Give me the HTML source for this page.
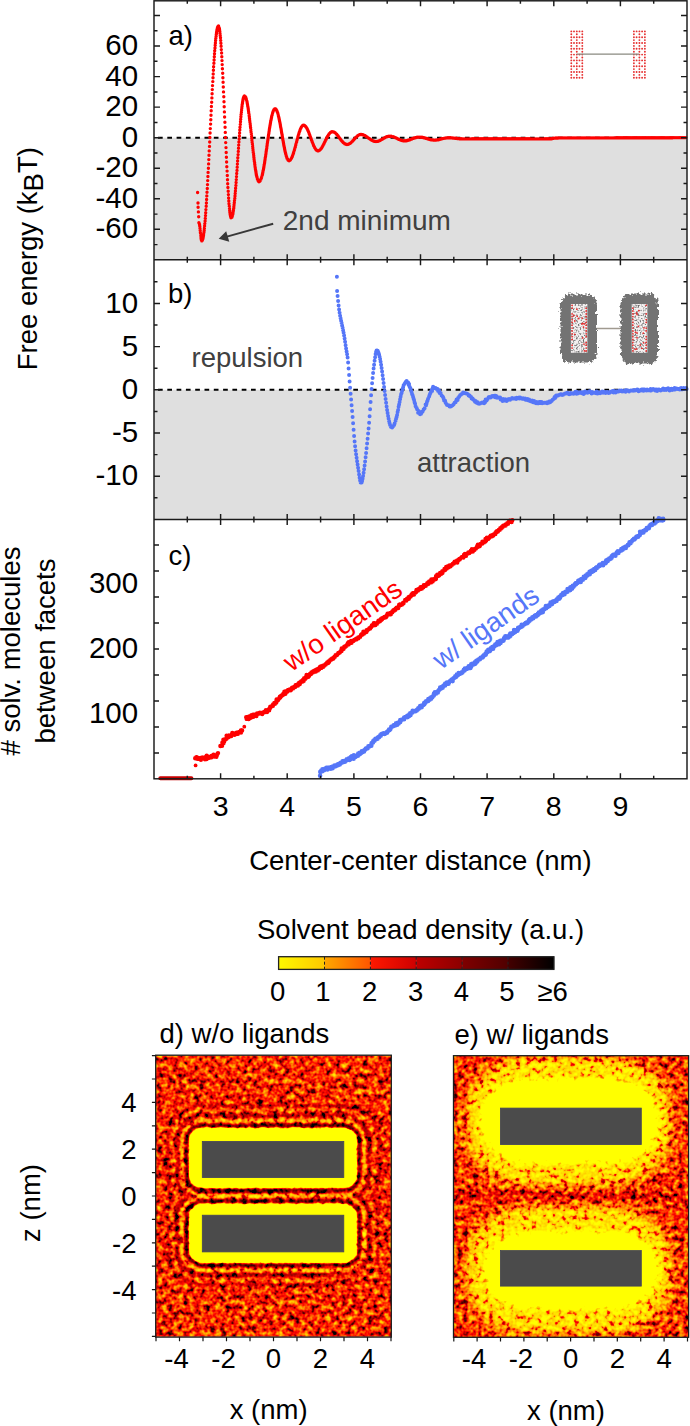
<!DOCTYPE html><html><head><meta charset="utf-8"><style>html,body{margin:0;padding:0;background:#fff;overflow:hidden;}svg{display:block;}</style></head><body>
<svg width="690" height="1426" viewBox="0 0 690 1426" font-family="Liberation Sans, sans-serif">
<rect width="690" height="1426" fill="#fff"/>
<defs>
<pattern id="dotpat" x="0" y="0" width="2.8" height="2.8" patternUnits="userSpaceOnUse"><circle cx="1.4" cy="1.4" r="0.75" fill="#e83030"/></pattern>
<pattern id="dotpat2" x="0" y="0" width="3" height="3" patternUnits="userSpaceOnUse"><circle cx="1.5" cy="1.5" r="0.8" fill="#e83a3a"/></pattern>
</defs>
<rect x="154" y="137.7" width="533" height="122" fill="#dfdfdf"/>
<rect x="154" y="389.8" width="533" height="129.6" fill="#dfdfdf"/>
<line x1="155" y1="137.7" x2="687" y2="137.7" stroke="#000" stroke-width="2" stroke-dasharray="4.7 4.6" stroke-dashoffset="-3"/>
<line x1="155" y1="389.8" x2="687" y2="389.8" stroke="#000" stroke-width="2" stroke-dasharray="4.7 4.6" stroke-dashoffset="-3"/>
<path d="M197.6 192.5h0M198 203h0M198.1 207.2h0M198.4 211.9h0M198.7 216.7h0M198.9 222.7h0M199.3 223.7h0M199.6 224.9h0M199.8 226.5h0M200 228.4h0M200.2 230.5h0M200.4 232.7h0M200.7 234.8h0M200.9 236.7h0M201.1 238.4h0M201.3 239.7h0M201.8 240.9h0M202.4 240.2h0M202.9 238.7h0M203.1 237.8h0M203.3 236.6h0M203.5 235.3h0M203.7 233.7h0M204 232h0M204.2 230.2h0M204.4 228.2h0M204.6 226h0M204.8 223.6h0M205.1 221.1h0M205.3 218.4h0M205.5 215.6h0M205.7 212.7h0M205.9 209.6h0M206.2 206.3h0M206.4 203h0M206.6 199.5h0M206.8 195.9h0M207 192.3h0M207.3 188.5h0M207.5 184.6h0M207.7 180.6h0M207.9 176.5h0M208.1 172.4h0M208.4 168.2h0M208.6 163.9h0M208.8 159.6h0M209 155.3h0M209.2 150.9h0M209.5 146.4h0M209.7 142h0M209.9 137.5h0M210.1 133h0M210.3 128.6h0M210.6 124.1h0M210.8 119.7h0M211 115.2h0M211.2 110.8h0M211.4 106.5h0M211.7 102.2h0M211.9 97.9h0M212.1 93.7h0M212.3 89.6h0M212.5 85.6h0M212.8 81.6h0M213 77.7h0M213.2 74h0M213.4 70.3h0M213.6 66.7h0M213.9 63.3h0M214.1 60h0M214.3 56.8h0M214.5 53.7h0M214.7 50.8h0M215 48h0M215.2 45.3h0M215.4 42.9h0M215.6 40.5h0M215.8 38.4h0M216.1 36.4h0M216.3 34.5h0M216.5 32.9h0M216.7 31.4h0M216.9 30.1h0M217.2 28.9h0M217.4 28h0M217.8 26.6h0M218.5 26h0M219.1 27.6h0M219.4 28.6h0M219.6 29.9h0M219.8 31.5h0M220 33.4h0M220.2 35.5h0M220.5 37.8h0M220.7 40.4h0M220.9 43.2h0M221.1 46.3h0M221.3 49.6h0M221.6 53h0M221.8 56.7h0M222 60.6h0M222.2 64.6h0M222.4 68.8h0M222.7 73.2h0M222.9 77.7h0M223.1 82.3h0M223.3 87h0M223.5 91.9h0M223.8 96.8h0M224 101.8h0M224.2 106.8h0M224.4 111.9h0M224.6 117h0M224.9 122.2h0M225.1 127.3h0M225.3 132.4h0M225.5 137.5h0M225.7 142.6h0M226 147.6h0M226.2 152.5h0M226.4 157.3h0M226.6 162h0M226.8 166.7h0M227.1 171.1h0M227.3 175.5h0M227.5 179.7h0M227.7 183.7h0M227.9 187.5h0M228.2 191.2h0M228.4 194.6h0M228.6 197.9h0M228.8 200.9h0M229 203.7h0M229.3 206.3h0M229.5 208.6h0M229.7 210.7h0M229.9 212.5h0M230.1 214.1h0M230.4 215.4h0M230.6 216.4h0M231 217.7h0M231.9 217.3h0M232.3 216h0M232.8 214.2h0M233 213h0M233.2 211.6h0M233.4 210.2h0M233.7 208.5h0M233.9 206.8h0M234.1 204.8h0M234.3 202.8h0M234.5 200.6h0M234.8 198.4h0M235 196h0M235.2 193.5h0M235.4 190.9h0M235.6 188.2h0M235.9 185.4h0M236.1 182.5h0M236.3 179.6h0M236.5 176.6h0M236.7 173.5h0M237 170.4h0M237.2 167.3h0M237.4 164.1h0M237.6 161h0M237.8 157.8h0M238.1 154.6h0M238.3 151.4h0M238.5 148.2h0M238.7 145.1h0M238.9 142h0M239.2 138.9h0M239.4 135.9h0M239.6 132.9h0M239.8 130h0M240 127.2h0M240.3 124.4h0M240.5 121.8h0M240.7 119.2h0M240.9 116.7h0M241.1 114.4h0M241.4 112.2h0M241.6 110h0M241.8 108.1h0M242 106.2h0M242.2 104.5h0M242.5 102.9h0M242.7 101.5h0M242.9 100.3h0M243.1 99.2h0M243.3 98.2h0M243.8 96.8h0M244.4 95.9h0M245.3 96.6h0M245.8 97.5h0M246.2 98.7h0M246.6 100.4h0M246.9 101.3h0M247.1 102.3h0M247.3 103.5h0M247.5 104.6h0M247.7 105.9h0M248 107.3h0M248.2 108.7h0M248.4 110.1h0M248.6 111.7h0M248.8 113.3h0M249.1 114.9h0M249.3 116.7h0M249.5 118.4h0M249.7 120.2h0M249.9 122.1h0M250.2 124h0M250.4 125.9h0M250.6 127.8h0M250.8 129.8h0M251 131.8h0M251.3 133.8h0M251.5 135.8h0M251.7 137.9h0M251.9 139.9h0M252.1 141.9h0M252.4 144h0M252.6 146h0M252.8 148h0M253 149.9h0M253.2 151.9h0M253.5 153.8h0M253.7 155.7h0M253.9 157.5h0M254.1 159.3h0M254.3 161.1h0M254.6 162.8h0M254.8 164.5h0M255 166.1h0M255.2 167.6h0M255.4 169.1h0M255.7 170.5h0M255.9 171.8h0M256.1 173.1h0M256.3 174.3h0M256.5 175.4h0M256.8 176.4h0M257 177.3h0M257.4 178.9h0M257.9 180.2h0M258.3 181.1h0M259 181.7h0M259.8 181.3h0M260.5 180.3h0M260.9 179.3h0M261.4 178.1h0M261.8 176.6h0M262.3 174.9h0M262.5 174h0M262.7 173h0M262.9 171.9h0M263.1 170.8h0M263.4 169.7h0M263.6 168.5h0M263.8 167.2h0M264 166h0M264.2 164.7h0M264.5 163.3h0M264.7 161.9h0M264.9 160.5h0M265.1 159.1h0M265.3 157.6h0M265.6 156.1h0M265.8 154.6h0M266 153.1h0M266.2 151.5h0M266.4 150h0M266.7 148.4h0M266.9 146.8h0M267.1 145.2h0M267.3 143.7h0M267.5 142.1h0M267.8 140.5h0M268 139h0M268.2 137.4h0M268.4 135.9h0M268.6 134.4h0M268.9 132.9h0M269.1 131.4h0M269.3 130h0M269.5 128.6h0M269.7 127.2h0M270 125.8h0M270.2 124.5h0M270.4 123.3h0M270.6 122h0M270.8 120.8h0M271.1 119.7h0M271.3 118.6h0M271.5 117.5h0M271.7 116.5h0M271.9 115.6h0M272.2 114.7h0M272.6 113.1h0M273 111.7h0M273.5 110.6h0M273.9 109.8h0M274.6 109h0M275.7 109h0M276.3 109.8h0M276.8 110.6h0M277.2 111.7h0M277.7 113h0M278.1 114.5h0M278.5 116.3h0M278.8 117.2h0M279 118.2h0M279.2 119.2h0M279.4 120.2h0M279.6 121.3h0M279.9 122.4h0M280.1 123.6h0M280.3 124.8h0M280.5 126h0M280.7 127.2h0M281 128.4h0M281.2 129.7h0M281.4 131h0M281.6 132.2h0M281.8 133.5h0M282.1 134.8h0M282.3 136.1h0M282.5 137.4h0M282.7 138.7h0M282.9 139.9h0M283.2 141.2h0M283.4 142.4h0M283.6 143.7h0M283.8 144.9h0M284 146h0M284.3 147.2h0M284.5 148.3h0M284.7 149.4h0M284.9 150.4h0M285.1 151.4h0M285.4 152.4h0M285.6 153.3h0M285.8 154.2h0M286.2 155.8h0M286.7 157.2h0M287.1 158.4h0M287.6 159.3h0M288.2 160.3h0M289.1 160.7h0M290 160.3h0M290.6 159.6h0M291.3 158.6h0M291.7 157.7h0M292.2 156.7h0M292.6 155.6h0M293.1 154.3h0M293.5 153h0M293.9 151.6h0M294.4 150.1h0M294.8 148.5h0M295.3 146.9h0M295.7 145.2h0M296.1 143.6h0M296.6 141.9h0M297 140.2h0M297.5 138.6h0M297.9 137h0M298.3 135.4h0M298.8 133.9h0M299.2 132.5h0M299.7 131.2h0M300.1 130h0M300.5 128.9h0M301 127.9h0M301.4 127.1h0M302.1 126.1h0M302.7 125.5h0M303.6 125.2h0M304.5 125.4h0M305.4 126.2h0M306 127h0M306.7 128h0M307.1 128.8h0M307.6 129.7h0M308 130.7h0M308.5 131.7h0M308.9 132.8h0M309.3 134h0M309.8 135.2h0M310.2 136.4h0M310.7 137.6h0M311.1 138.8h0M311.5 140.1h0M312 141.3h0M312.4 142.4h0M312.9 143.6h0M313.3 144.6h0M313.7 145.7h0M314.2 146.6h0M314.6 147.5h0M315.3 148.6h0M315.9 149.5h0M316.6 150.2h0M317.5 150.7h0M318.6 150.7h0M319.5 150.3h0M320.3 149.6h0M321 148.8h0M321.7 147.9h0M322.3 146.8h0M323 145.6h0M323.4 144.8h0M323.9 143.9h0M324.3 143h0M324.7 142.1h0M325.2 141.2h0M325.6 140.3h0M326.1 139.4h0M326.5 138.5h0M326.9 137.6h0M327.4 136.8h0M327.8 136h0M328.5 134.9h0M329.1 133.9h0M329.8 133.1h0M330.5 132.5h0M331.3 131.9h0M332.2 131.7h0M333.3 131.9h0M334.2 132.2h0M335.1 132.8h0M336 133.6h0M336.6 134.2h0M337.3 135h0M337.9 135.8h0M338.6 136.7h0M339.3 137.6h0M339.9 138.5h0M340.6 139.4h0M341.2 140.2h0M341.9 141.1h0M342.6 141.8h0M343.2 142.5h0M344.1 143.3h0M345 143.9h0M345.9 144.3h0M347 144.5h0M348.1 144.4h0M348.9 144h0M349.8 143.5h0M350.7 142.9h0M351.6 142.1h0M352.2 141.4h0M352.9 140.7h0M353.6 139.9h0M354.2 139.2h0M354.9 138.5h0M355.5 137.7h0M356.2 137.1h0M356.9 136.4h0M357.7 135.7h0M358.6 135.1h0M359.5 134.7h0M360.4 134.5h0M361.5 134.5h0M362.6 134.7h0M363.5 135h0M364.3 135.4h0M365.2 135.8h0M366.1 136.4h0M367 136.9h0M367.9 137.6h0M368.7 138.2h0M369.6 138.8h0M370.5 139.4h0M371.4 140h0M372.3 140.5h0M373.1 140.9h0M374 141.2h0M374.9 141.4h0M376 141.5h0M377.1 141.4h0M378.2 141.2h0M379.1 140.9h0M380 140.5h0M380.8 140h0M381.7 139.5h0M382.6 139h0M383.5 138.4h0M384.4 137.9h0M385.2 137.4h0M386.1 137h0M387 136.7h0M387.9 136.4h0M389 136.2h0M390.1 136.2h0M391.2 136.3h0M392.3 136.6h0M393.2 136.8h0M394 137.1h0M394.9 137.5h0M395.8 137.9h0M396.7 138.3h0M397.6 138.7h0M398.4 139.2h0M399.3 139.6h0M400.2 139.9h0M401.1 140.2h0M402 140.5h0M403.1 140.7h0M404.2 140.8h0M405.3 140.8h0M406.4 140.7h0M407.5 140.5h0M408.3 140.2h0M409.2 140h0M410.1 139.7h0M411 139.3h0M411.9 139h0M412.7 138.6h0M413.6 138.3h0M414.5 138h0M415.4 137.7h0M416.3 137.5h0M417.4 137.3h0M418.5 137.1h0M419.6 137.1h0M420.7 137.2h0M421.8 137.3h0M422.9 137.5h0M423.7 137.7h0M424.6 137.9h0M425.5 138.2h0M426.4 138.4h0M427.3 138.7h0M428.1 139h0M429 139.2h0M429.9 139.5h0M430.8 139.7h0M431.9 139.9h0M433 140h0M434.1 140.1h0M435.2 140.1h0M436.3 140h0M437.4 139.9h0M438.5 139.7h0M439.4 139.5h0M440.2 139.3h0M441.1 139h0M442 138.8h0M442.9 138.6h0M443.8 138.4h0M444.9 138.1h0M446 138h0M447.1 137.9h0M448.2 137.8h0M449.3 137.8h0M450.4 137.8h0M451.5 137.9h0M452.6 138h0M453.7 138.1h0M454.8 138.2h0M455.9 138.3h0M457 138.5h0M458.1 138.6h0M459.2 138.7h0M460.3 138.8h0M461.4 138.8h0M462.5 138.9h0M463.6 138.9h0M464.7 138.9h0M465.8 138.9h0M466.9 138.9h0M468 138.9h0M469.1 138.9h0M470.2 138.9h0M471.3 138.9h0M472.4 138.8h0M473.5 138.8h0M474.6 138.8h0M475.7 138.8h0M476.8 138.8h0M477.9 138.8h0M479 138.8h0M480.1 138.8h0M481.2 138.8h0M482.3 138.8h0M483.4 138.8h0M484.5 138.8h0M485.6 138.8h0M486.7 138.7h0M487.8 138.7h0M488.9 138.7h0M490 138.7h0M491.1 138.7h0M492.2 138.7h0M493.3 138.7h0M494.4 138.7h0M495.5 138.7h0M496.6 138.7h0M497.7 138.7h0M498.8 138.7h0M499.9 138.7h0M501 138.7h0M502.1 138.7h0M503.2 138.7h0M504.3 138.7h0M505.4 138.7h0M506.5 138.7h0M507.6 138.7h0M508.7 138.7h0M509.8 138.7h0M510.9 138.7h0M512 138.7h0M513.1 138.7h0M514.2 138.7h0M515.3 138.8h0M516.4 138.8h0M517.5 138.8h0M518.6 138.8h0M519.7 138.8h0M520.8 138.8h0M521.9 138.8h0M523 138.8h0M524.1 138.8h0M525.2 138.8h0M526.3 138.8h0M527.4 138.8h0M528.5 138.8h0M529.6 138.8h0M530.7 138.9h0M531.8 138.9h0M532.9 138.9h0M534 138.9h0M535.1 138.9h0M536.2 138.9h0M537.3 138.9h0M538.4 138.9h0M539.5 138.9h0M540.6 138.9h0M541.7 138.9h0M542.8 138.9h0M543.9 138.9h0M545 138.8h0M546.1 138.8h0M547.2 138.8h0M548.3 138.8h0M549.4 138.8h0M550.5 138.8h0M551.6 138.7h0M552.7 138.5h0M553.8 138.3h0M554.9 138.1h0M556 138h0M557.1 138h0M558.2 138h0M559.3 137.9h0M560.4 137.9h0M561.5 137.9h0M562.6 137.9h0M563.7 137.9h0M564.8 137.9h0M565.9 137.9h0M567 137.9h0M568.1 137.9h0M569.2 137.9h0M570.3 137.9h0M571.4 137.9h0M572.5 137.9h0M573.6 137.9h0M574.7 137.9h0M575.8 137.9h0M576.9 137.9h0M578 137.9h0M579.1 137.9h0M580.2 137.9h0M581.3 137.9h0M582.4 137.9h0M583.5 137.9h0M584.6 137.9h0M585.7 137.9h0M586.8 137.9h0M587.9 137.9h0M589 137.9h0M590.1 137.9h0M591.2 137.9h0M592.3 137.9h0M593.4 137.9h0M594.5 137.9h0M595.6 137.9h0M596.7 137.9h0M597.8 137.9h0M598.9 137.9h0M600 137.9h0M601.1 137.9h0M602.2 137.9h0M603.3 137.9h0M604.4 137.9h0M605.5 137.9h0M606.6 137.9h0M607.7 137.9h0M608.8 137.9h0M609.9 137.9h0M611 137.9h0M612.1 137.9h0M613.2 137.9h0M614.3 137.9h0M615.4 137.9h0M616.5 137.8h0M617.6 137.8h0M618.7 137.8h0M619.8 137.8h0M620.9 137.8h0M622 137.8h0M623.1 137.8h0M624.2 137.8h0M625.3 137.8h0M626.4 137.8h0M627.5 137.8h0M628.6 137.8h0M629.7 137.8h0M630.8 137.8h0M631.9 137.8h0M633 137.8h0M634.1 137.8h0M635.2 137.8h0M636.3 137.8h0M637.4 137.8h0M638.5 137.8h0M639.6 137.8h0M640.7 137.8h0M641.8 137.8h0M642.9 137.8h0M644 137.8h0M645.1 137.7h0M646.2 137.7h0M647.3 137.7h0M648.4 137.7h0M649.5 137.7h0M650.6 137.7h0M651.7 137.7h0M652.8 137.7h0M653.9 137.7h0M655 137.7h0M656.1 137.7h0M657.2 137.7h0M658.3 137.7h0M659.4 137.7h0M660.5 137.7h0M661.6 137.7h0M662.7 137.7h0M663.8 137.7h0M664.9 137.7h0M666 137.7h0M667.1 137.7h0M668.2 137.7h0M669.3 137.7h0M670.4 137.7h0M671.5 137.7h0M672.6 137.7h0M673.7 137.6h0M674.8 137.6h0M675.9 137.6h0M677 137.6h0M678.1 137.6h0M679.2 137.6h0M680.3 137.6h0M681.4 137.6h0M682.5 137.6h0M683.6 137.6h0M684.7 137.6h0M685.8 137.6h0" stroke="#ff0000" stroke-width="3.4" stroke-linecap="round" fill="none"/>
<path d="M336.9 276.7h0M337.1 290.9h0M337.6 296h0M338.1 301h0M338.6 305.6h0M339.1 309.4h0M339.6 312.7h0M340.1 315.7h0M340.6 318.3h0M341.1 320.7h0M341.6 323.1h0M342.1 325.4h0M342.6 327.8h0M343.1 330.2h0M343.6 332.7h0M344.1 335.4h0M344.6 338.4h0M345.1 341.8h0M345.6 345.2h0M346.1 348.5h0M346.6 351.5h0M347.1 354.3h0M347.6 357.6h0M348.1 362.4h0M348.6 368.5h0M349.1 375.1h0M349.6 381.4h0M350.1 387.8h0M350.6 393.7h0M351.1 399.5h0M351.6 405.3h0M352.1 411h0M352.6 416.9h0M353.1 423.2h0M353.6 429.7h0M354.1 436h0M354.6 441.6h0M355.1 446.2h0M355.6 450.4h0M356.1 454.2h0M356.6 457.8h0M357.1 461.2h0M357.6 464.5h0M358.1 467.7h0M358.6 471h0M359.1 474.5h0M359.6 477.8h0M360.1 480.6h0M360.6 482.4h0M361.6 482.4h0M362.1 481h0M362.6 478.8h0M363.1 476h0M363.6 472.8h0M364.1 469.3h0M364.6 465.5h0M365.1 461.5h0M365.6 457.3h0M366.1 452.9h0M366.6 448.3h0M367.1 443.6h0M367.6 438.7h0M368.1 433.6h0M368.6 428.4h0M369.1 422.7h0M369.6 416.2h0M370.1 409.2h0M370.6 402h0M371.1 395.2h0M371.6 389h0M372.1 383.3h0M372.6 377.9h0M373.1 372.9h0M373.6 368.6h0M374.1 364.7h0M374.6 360.8h0M375.1 357.2h0M375.6 354h0M376.1 351.7h0M376.6 350.4h0M377.6 350.8h0M378.1 351.7h0M378.6 353h0M379.1 354.6h0M379.6 356.7h0M380.1 359.1h0M380.6 361.8h0M381.1 364.8h0M381.6 368h0M382.1 371.5h0M382.6 375.2h0M383.1 379h0M383.6 382.9h0M384.1 386.9h0M384.6 391h0M385.1 395h0M385.6 398.9h0M386.1 402.7h0M386.6 406.4h0M387.1 409.9h0M387.6 413.1h0M388.1 416.1h0M388.6 418.8h0M389.1 421.2h0M389.6 423.3h0M390.1 424.9h0M390.6 426.2h0M391.1 427.1h0M392.1 427.6h0M393.1 426.3h0M394.1 424.9h0M394.6 423.6h0M395.6 420.7h0M396.1 418.7h0M396.6 417.1h0M397.1 415.1h0M397.6 412.1h0M398.1 410.1h0M398.6 406.8h0M399.1 404.6h0M399.6 402.1h0M400.1 399.2h0M400.6 396.7h0M401.1 394.3h0M401.6 392.9h0M402.1 390.9h0M402.6 388.9h0M403.1 387.5h0M403.6 385.2h0M404.6 383.8h0M405.6 381.9h0M406.6 381h0M407.1 382.1h0M408.1 382.6h0M408.6 384.8h0M409.1 383.9h0M409.6 386.7h0M410.1 387.7h0M410.6 388.8h0M411.1 390.7h0M411.6 392.3h0M412.1 394.3h0M412.6 395.3h0M413.1 396.9h0M413.6 398.7h0M414.1 400.2h0M414.6 402.4h0M415.1 403.7h0M415.6 406.3h0M416.6 407.9h0M417.1 409.2h0M418.1 412.7h0M418.6 411.1h0M419.1 412.8h0M420.1 414.3h0M420.6 412.3h0M421.1 413.8h0M421.6 412.4h0M422.6 411.4h0M423.6 409.5h0M424.6 408.3h0M425.6 404.4h0M426.1 405.3h0M426.6 403.6h0M427.1 401.5h0M427.6 400.5h0M428.1 398.8h0M429.1 396.5h0M429.6 395h0M430.1 393.8h0M430.6 392.7h0M431.1 391.6h0M431.6 390.3h0M432.1 391.1h0M432.6 388.3h0M433.1 386.8h0M433.6 388.3h0M434.6 388.1h0M435.6 387.9h0M436.6 389h0M437.6 389.1h0M438.1 390.9h0M439.1 390.6h0M439.6 393.1h0M440.6 393.1h0M441.6 395.4h0M442.6 396.5h0M443.1 397.3h0M443.6 398.6h0M444.1 400.4h0M445.1 400.7h0M445.6 402.7h0M446.6 404.2h0M447.1 405h0M448.1 405.3h0M449.1 405.4h0M449.6 406.6h0M450.6 406.5h0M451.6 406h0M452.6 405.2h0M453.6 404.3h0M454.6 402.8h0M455.6 402.3h0M456.1 401h0M456.6 399.6h0M457.6 399.9h0M458.1 398.1h0M459.1 396.8h0M460.1 395.2h0M461.1 394.5h0M462.1 393.8h0M463.1 392.4h0M464.1 392.9h0M465.1 393.2h0M466.1 393.6h0M467.1 393.8h0M468.1 394.4h0M468.6 395.4h0M469.6 395.4h0M470.1 396.6h0M471.1 397h0M471.6 398.6h0M472.6 398.6h0M473.1 399.6h0M474.1 400.2h0M474.6 400.9h0M475.1 401.8h0M475.6 400.9h0M476.1 402.4h0M477.1 403.1h0M477.6 402.3h0M478.1 403.4h0M479.1 403.8h0M480.1 403.6h0M481.1 403h0M482.1 402.5h0M483.1 402.7h0M484.1 403.2h0M484.6 401.5h0M485.1 402.3h0M485.6 399.6h0M486.6 400.5h0M487.6 398.9h0M488.6 397.3h0M489.6 397.1h0M490.6 397.5h0M491.6 396.8h0M492.1 396h0M493.1 396.2h0M494.1 396.8h0M494.6 395.7h0M495.1 397.3h0M495.6 395.8h0M496.1 397.1h0M496.6 396.3h0M497.1 397.8h0M498.1 397.6h0M499.1 397.6h0M500.1 397.5h0M500.6 399.5h0M501.1 398.8h0M502.1 399.6h0M502.6 400.9h0M503.1 399.1h0M503.6 400.3h0M504.6 400.6h0M505.1 399.3h0M505.6 400.1h0M506.6 401.1h0M507.6 399.6h0M508.6 399.7h0M509.1 398.9h0M510.1 399.7h0M511.1 398.9h0M512.1 398.1h0M513.1 398.5h0M514.1 398.6h0M515.1 398.3h0M516.1 399.1h0M516.6 397.8h0M517.6 398.2h0M518.6 398.3h0M519.1 397.4h0M519.6 398.5h0M520.1 397.4h0M521.1 398.2h0M522.1 398.7h0M523.1 398.3h0M524.1 399h0M525.1 398.5h0M525.6 399.7h0M526.6 399h0M527.1 399.9h0M527.6 399.1h0M528.6 400.5h0M529.1 399.6h0M529.6 400.6h0M530.6 401.3h0M531.6 401.4h0M532.1 400.6h0M532.6 401.4h0M533.1 402.2h0M534.1 401h0M534.6 402.6h0M535.6 402.1h0M536.1 403.2h0M536.6 401.9h0M537.6 403.2h0M538.6 403.3h0M539.1 402.1h0M540.1 402.9h0M540.6 401.9h0M541.6 402h0M542.1 403.3h0M543.1 403h0M544.1 402.7h0M545.1 402.8h0M546.1 402.7h0M547.1 403.3h0M547.6 402.3h0M548.6 402.7h0M549.1 401.4h0M550.1 402.3h0M550.6 401.2h0M551.6 400.9h0M552.6 399.7h0M553.6 399.1h0M554.6 397h0M555.1 398.1h0M555.6 397.3h0M556.1 395.6h0M557.1 395.8h0M558.1 395.4h0M559.1 395.1h0M560.1 394.4h0M561.1 394.2h0M562.1 394.9h0M563.1 394.7h0M564.1 394h0M565.1 393.5h0M566.1 393.4h0M567.1 392.8h0M567.6 393.6h0M568.6 393.3h0M569.1 394.2h0M570.1 393.9h0M570.6 393h0M571.6 393.5h0M572.6 393.6h0M573.6 393.8h0M574.1 392.9h0M575.1 392.5h0M575.6 391.7h0M576.1 392.7h0M576.6 393.7h0M577.1 392h0M577.6 393.4h0M578.1 392.5h0M579.1 392.8h0M580.1 392.2h0M581.1 393h0M582.1 392.3h0M582.6 393.5h0M583.6 394h0M584.1 391.9h0M584.6 392.7h0M585.1 391.6h0M585.6 392.8h0M586.6 392h0M587.6 392.7h0M588.6 392.1h0M589.6 391.2h0M590.1 392.2h0M591.1 392.6h0M591.6 393.4h0M592.1 391.9h0M593.1 392.8h0M594.1 392.7h0M595.1 392.8h0M596.1 393.2h0M596.6 391.6h0M597.1 392.4h0M597.6 393.6h0M598.1 392.2h0M599.1 392.4h0M600.1 393.3h0M601.1 392.3h0M602.1 391.6h0M603.1 392.8h0M604.1 391.7h0M604.6 392.5h0M605.6 392.9h0M606.6 392h0M607.6 392h0M608.6 392.9h0M609.6 392.7h0M610.6 391.8h0M611.6 391.7h0M612.6 390.9h0M613.6 392.5h0M614.1 391.1h0M615.1 391.5h0M615.6 392.5h0M616.6 391.3h0M617.6 391.4h0M618.6 391.4h0M619.6 390.5h0M620.6 391.1h0M621.6 390.5h0M622.1 391.6h0M623.1 390.9h0M624.1 391.3h0M625.1 390.5h0M625.6 391.7h0M626.1 390.3h0M627.1 390.4h0M628.1 390.6h0M629.1 391.5h0M630.1 390.7h0M631.1 390.6h0M632.1 390.5h0M633.1 390.7h0M634.1 390.1h0M635.1 390.5h0M636.1 390.2h0M637.1 389.5h0M638.1 389.8h0M638.6 391.2h0M639.6 390.6h0M640.6 390.5h0M641.6 389.4h0M642.1 390.4h0M643.1 389.5h0M643.6 390.7h0M644.6 389.4h0M645.6 390.1h0M646.6 390.4h0M647.1 389.5h0M648.1 390.3h0M649.1 390.2h0M650.1 390.5h0M650.6 389h0M651.1 390.6h0M652.1 389.4h0M653.1 389h0M654.1 389.8h0M655.1 390.4h0M655.6 389.5h0M656.6 389.4h0M657.1 390.9h0M657.6 389.9h0M658.6 389.4h0M659.6 389.8h0M660.6 390.5h0M661.6 389.9h0M662.6 389.3h0M663.1 388.5h0M664.1 389.9h0M665.1 389.8h0M665.6 388.9h0M666.1 390.1h0M667.1 389.6h0M668.1 388.3h0M668.6 389.2h0M669.6 390.4h0M670.1 389.3h0M671.1 389.8h0M671.6 388.7h0M672.1 390.1h0M672.6 388.9h0M673.6 388.7h0M674.1 389.6h0M674.6 388h0M675.1 389.5h0M675.6 388.7h0M676.6 388.4h0M677.6 389.1h0M678.6 389.1h0M679.6 389.4h0M680.1 388.6h0M681.1 388.1h0M681.6 389.2h0M682.6 389.3h0M683.6 388.1h0M684.1 389.1h0M685.1 388.5h0M686.1 388.1h0M686.6 389h0" stroke="#5576f8" stroke-width="4.0" stroke-linecap="round" fill="none"/>
<line x1="160.3" y1="778.3" x2="191.4" y2="778.3" stroke="#c80000" stroke-width="4" stroke-linecap="round"/>
<circle cx="195.6" cy="765.4" r="1.9" fill="#ff0000"/>
<circle cx="244.3" cy="726.7" r="1.9" fill="#ff0000"/>
<path d="M195.2 758.2h0M196.4 757.3h0M196.7 757.2h0M197.8 758.9h0M198.5 758.3h0M198.7 758.4h0M198.9 758.6h0M199.4 758.2h0M200.6 758.4h0M200.9 759.8h0M201.6 757.7h0M202.3 757.7h0M202.7 757.7h0M204.1 757.9h0M204.1 758.2h0M205.3 757.5h0M205 759.3h0M205.3 757.2h0M206.6 759h0M206.7 755.6h0M207.8 756.8h0M208.1 757.4h0M208.9 757.2h0M209.2 757.8h0M210.5 756.9h0M210.4 757.3h0M211.4 755.9h0M211.6 757.3h0M212.4 756.2h0M213.1 756.3h0M213.6 754.8h0M214.8 756.1h0M214.5 756.5h0M215.5 755.6h0M216.4 756.7h0M216.8 755.6h0M218 753.1h0M217.6 753.6h0" fill="none" stroke="#ff0000" stroke-width="4.4" stroke-linecap="round"/>
<path d="M220.4 746h0M222.1 745.8h0M222.4 742.5h0M223.6 743.1h0M223.7 742h0M223.4 739.8h0M224.2 741.4h0M224.9 739.2h0M225.7 739.2h0M226.6 738.5h0M226.6 735.7h0M227.7 737.6h0M228.6 737h0M228.6 736.9h0M228.9 735.5h0M229.6 736.1h0M231.3 736.1h0M231.6 735.3h0M231.9 734.5h0M232.3 732.9h0M232.6 733.4h0M233.9 734.5h0M234.6 734.8h0M234.7 734.2h0M236.1 733.3h0M236.4 733h0M236 733h0M236.9 732.8h0M237.6 732.8h0M237.7 733.9h0M239.5 732h0M239.3 732.1h0M240.4 732.3h0M240.9 730.5h0M241 732.6h0M242.1 730.4h0" fill="none" stroke="#ff0000" stroke-width="4.4" stroke-linecap="round"/>
<path d="M246.2 717.3h0M246.7 718.9h0M247.6 718.7h0M248.4 716.6h0M248.7 719h0M249.2 716.5h0M250.5 717h0M250.7 717.8h0M250.7 716.8h0M251.5 715.3h0M252.2 716.9h0M253 714.6h0M253.3 716.8h0M254.7 714.7h0M255.8 715h0M255.1 715h0M256.4 716h0M257.1 714.4h0M257.1 713.5h0M257.9 713.9h0M258.6 713.3h0M258.9 713.4h0M259.3 713h0M259.9 712.8h0M261.1 713.5h0M261 713.6h0M262.2 714h0M262.6 712.6h0M263.1 712.5h0M264.1 712.3h0M264.4 712.3h0M265.1 711.7h0M265.4 711.3h0M265.9 710.3h0M267 712h0M267.9 710.1h0M268 710.4h0M269.2 710.2h0M269.2 709h0M269.8 708.2h0M270.2 707.8h0M270.3 706.6h0M271.9 706.3h0M272.5 705.4h0M272.8 705.9h0M273.1 704.4h0M275 703.7h0M274.4 703h0M275.3 702.6h0M276.3 702.5h0M276.4 701h0M276.6 699.5h0M277.4 700.4h0M278.3 699.7h0M279.2 698.3h0M280.3 697.4h0M279.9 696.7h0M281.1 696.3h0M281 696h0M282.3 695h0M282.4 695.3h0M283.5 694.6h0M283.4 693.6h0M284.4 691.7h0M285.3 692.6h0M285.4 693.8h0M286.2 691.3h0M286.7 691.9h0M287.6 691.2h0M287.6 690.4h0M288.2 689.9h0M289.1 690h0M289.7 689.4h0M290 689.6h0M290.8 690.2h0M291.2 689.2h0M292.1 687.7h0M293 688.4h0M292.6 688.3h0M294.2 686.9h0M295.1 687.1h0M294.7 687h0M295.6 685.2h0M295.5 685.8h0M296.6 685.7h0M297.6 684.4h0M297.9 685.5h0M299.3 684.3h0M299.2 682.6h0M299.8 684h0M300.7 682.1h0M300.7 682h0M301.4 681.3h0M302.6 681.5h0M302.9 680h0M303.6 680.9h0M304.2 678.1h0M305.3 678.7h0M306.5 677.6h0M305.9 677.1h0M306.6 676.4h0M306.6 674.9h0M307.7 675.4h0M308.1 676.9h0M309.2 675.7h0M309.3 674.7h0M310 673.9h0M311 674.1h0M311.4 673.4h0M311.4 672.4h0M312.6 672.3h0M312.8 672.4h0M313.4 671.3h0M314.6 671.2h0M315.4 671.5h0M315.8 671.5h0M315.3 670.3h0M316.2 669.7h0M317.3 670.5h0M317.9 670.4h0M318.3 668.8h0M319.1 669.2h0M319.7 667.7h0M320.2 666.7h0M321.3 667.9h0M321.7 667.1h0M321.9 666.3h0M323 665.6h0M323 666.9h0M324.5 665.6h0M324.7 665.1h0M325.6 664.2h0M325.7 664.5h0M326.8 663.5h0M327 662.9h0M327.3 662.4h0M328.1 663h0M328.5 661.5h0M329.2 661.7h0M330.1 660.1h0M330.6 659.9h0M331.4 659.4h0M331.3 659.1h0M332.3 658.4h0M333 658.7h0M333.5 658.2h0M334.4 657h0M334.7 656.9h0M334.6 656.6h0M335.6 655.2h0M336.3 655.2h0M337.2 654.8h0M337.5 654.3h0M338.4 652.9h0M338.9 653.1h0M339.7 652.4h0M340.1 652.1h0M341.5 651h0M340.7 651.2h0M341.7 648.4h0M341.7 649.1h0M343.5 648.9h0M343.6 648.7h0M344.3 646.8h0M344.9 646.8h0M345.5 646.5h0M345.3 646.8h0M346.5 645.7h0M347 644.9h0M347.8 643.3h0M348.6 644.4h0M348.7 642.1h0M349.5 642.5h0M350.3 642.7h0M351.5 642.8h0M351.4 642h0M351.1 640.9h0M352.4 641.1h0M353.4 640.9h0M354.2 639.9h0M354.6 639.9h0M355.1 639.8h0M355.6 639.3h0M356.3 639.4h0M356.9 638.5h0M358.4 638.3h0M358.3 638.2h0M358.3 637.5h0M359.6 636.9h0M360.2 636.7h0M360.9 635.2h0M361.3 634.8h0M362.1 634.8h0M361.8 634.3h0M362.5 634.4h0M363.4 631.7h0M364 633.5h0M364.8 631.8h0M365.5 632.2h0M366.4 631.9h0M366.6 630.2h0M367.2 630.5h0M367.7 630.1h0M367.9 629.7h0M368.9 629.1h0M369.5 628.1h0M370.2 628.4h0M370.6 627.6h0M371 627.2h0M371.9 625.5h0M372.9 625.3h0M373.1 624.6h0M373.1 625.5h0M373.8 623.2h0M374.8 623.1h0M375.4 625h0M376 623.6h0M376.9 623.1h0M377.3 623.5h0M377.9 622.3h0M378.5 620.8h0M379.2 621.3h0M379.9 621.3h0M380.8 619.1h0M380.7 619.7h0M381.2 619.9h0M382.1 619.3h0M382.1 618.2h0M383.3 618.1h0M383.7 617.9h0M384.4 616.9h0M385.7 616.7h0M385.9 617.2h0M386.6 615.9h0M386.6 616.2h0M387.6 613.8h0M387.2 614.6h0M388.6 614.4h0M389.4 613.4h0M390.8 614.3h0M390.9 613.4h0M390.4 612.9h0M391.5 612.6h0M392.3 612.3h0M392.6 611.1h0M393.5 610.3h0M393.9 610.8h0M395.4 609.7h0M395.6 608.6h0M395.7 609.1h0M396.7 607.7h0M397.3 608h0M398.2 608.1h0M398.5 606.7h0M399 605.9h0M399.2 604.7h0M399.7 604.6h0M400.7 605.1h0M400.8 604.4h0M402 604.6h0M402.5 603.6h0M403 603.6h0M403.2 602.7h0M403.5 603.2h0M405.2 600h0M405.3 600h0M405.5 600.2h0M406.4 600.6h0M407.1 598.6h0M407.9 599.1h0M408.8 598.7h0M408.6 597.3h0M409.6 596.7h0M410.6 596.5h0M410.9 596h0M411.5 594.7h0M412.8 594.8h0M412.4 593.5h0M413.3 593.2h0M414 594.5h0M414.7 592.9h0M415.5 592.6h0M415.7 592.3h0M416.1 592h0M416.5 590h0M417.9 590.3h0M418 590.6h0M418.5 589.1h0M419.2 588.8h0M420.1 588.7h0M420.4 589.1h0M420.6 587.2h0M421.9 588.6h0M422.3 586.9h0M423.3 587.3h0M423.8 585.3h0M424 585.4h0M424.3 586.1h0M425.5 585h0M425.8 585.8h0M426.7 584.4h0M427.3 584.2h0M427.3 583.3h0M428.4 583.7h0M428.5 582.3h0M429.3 581.4h0M430.5 582.3h0M431.1 580.1h0M431 582.4h0M431.4 579.5h0M432.6 581.4h0M433.3 579.2h0M433.9 579.7h0M434.4 579.2h0M435.2 579.3h0M436 578.7h0M436 576.2h0M436.9 576h0M438.1 575.7h0M437.3 574.7h0M438.6 575.7h0M439.3 575.1h0M439.4 575h0M440.1 572.9h0M441.2 573.7h0M441.2 572.6h0M442.4 572.9h0M442.3 572.5h0M442.4 571.3h0M444 570.6h0M444.5 569h0M445.1 570h0M445.4 569.2h0M446.2 567h0M446.7 568.5h0M447 567.6h0M448.2 566.2h0M448.6 567.2h0M449.5 565.5h0M450.2 565.9h0M450.5 566.3h0M451.3 565.1h0M452 564.8h0M452.7 563.9h0M452.3 564.6h0M453.8 563.5h0M454.1 562.6h0M454.7 561.6h0M455.6 561.9h0M455.6 561.6h0M456.4 561h0M457.3 562.5h0M457.3 560.5h0M458.5 560.1h0M459.4 559.1h0M459.4 559h0M459.6 559.4h0M460.3 558.6h0M461.7 557.2h0M461.8 557.3h0M463.1 557.2h0M462.5 557.3h0M464.1 554.8h0M463.4 557.5h0M464.9 553.9h0M465.9 555.9h0M465.3 555.4h0M466.9 554.1h0M467.1 553.9h0M467.6 553.4h0M468.4 552.5h0M469.3 553.1h0M470 552.3h0M470.9 550.7h0M470.9 551.3h0M471.9 549.2h0M471.9 550.1h0M472.8 551.5h0M473.4 549.5h0M474 549.8h0M474.4 549.9h0M474.7 549.1h0M475.9 548.5h0M476.8 547.3h0M477 547.2h0M477.3 546h0M477.8 546.7h0M477.9 544.8h0M479.3 546.2h0M479.9 545.7h0M480.5 544h0M480.6 544.1h0M482.3 543.6h0M481.9 543.5h0M482.4 541.8h0M483.9 542.4h0M484.4 541.9h0M484.7 541.4h0M485.2 541.5h0M485.5 539h0M486.2 540.5h0M486.9 537.8h0M488.7 538.3h0M488.2 538.9h0M489 538h0M489 538h0M489.8 537h0M491 536.4h0M490.7 535.8h0M492.1 536.3h0M492 535.3h0M493.2 535.6h0M493.8 534.5h0M494.2 534.2h0M495.2 533.3h0M495.4 534.1h0M496.1 531.9h0M496.9 531.1h0M496.9 532.1h0M497.9 531.5h0M498.8 530h0M499.3 529.8h0M499.8 529.7h0M500.3 528.2h0M501 528.6h0M501.7 527.3h0M502.2 527.4h0M502.6 526.9h0M503.2 525.7h0M503.7 525.8h0M504.7 525.6h0M505.6 525.6h0M505.8 524.9h0M505.8 524.5h0M507.3 523.1h0M508 523.7h0M508.2 522.6h0M508.7 521.9h0M509.3 522.1h0M509.9 520.8h0M510.8 520.7h0M511.2 521.2h0M511.6 522.1h0M512.3 520.2h0" fill="none" stroke="#ff0000" stroke-width="4.4" stroke-linecap="round"/>
<path d="M320.1 775.7h0M320.3 771.9h0M321.3 770.5h0M322.3 771.2h0M322.4 769.5h0M322.5 769.2h0M324 770.2h0M323.9 769.6h0M325.4 768.8h0M325.4 768.5h0M326.4 767.7h0M326.8 769.3h0M327.4 769.5h0M328.2 768.3h0M328.2 767.8h0M329.4 768.3h0M329.8 767.6h0M330.8 768.7h0M331.3 767.1h0M332.6 768.3h0M331.8 768.1h0M332.8 766.6h0M333.1 767.2h0M334.1 766.8h0M334.5 765.6h0M335.3 765.8h0M335.7 766.2h0M337 765h0M337.4 764.6h0M337.9 765.3h0M338.2 764.7h0M338.5 764h0M339.7 764.5h0M340.8 762.9h0M340.4 763.4h0M341.2 762.7h0M341.6 762.7h0M342.9 762.3h0M342.7 762.3h0M342.6 761.2h0M344 761.7h0M344 761h0M345 761.6h0M346.3 760.2h0M346.8 759.4h0M347.3 760.1h0M348.2 759.3h0M347.6 759.9h0M348.6 758.6h0M349.5 759.9h0M350.2 759.2h0M350.8 757h0M351.6 758.1h0M351.8 756.3h0M353.6 758.7h0M353.4 757.2h0M354.1 757h0M353.9 755.3h0M355.3 757h0M356 756.3h0M356.2 756.2h0M357.4 755.5h0M357.9 755.8h0M357.7 755.4h0M358.3 753.6h0M359.8 752.7h0M359.7 754.3h0M360.5 753h0M360.7 753.3h0M361.8 752.6h0M361.8 751.2h0M362.8 751.9h0M363.7 751.3h0M364.3 750.2h0M364 751.4h0M365 749.7h0M365.7 748.9h0M366.3 748.3h0M367.1 748.4h0M367.6 748.2h0M368.4 746.4h0M368.9 746.8h0M369 746.2h0M370.2 746.1h0M371.3 744.9h0M371.3 745.8h0M371.6 743.2h0M372.2 742.7h0M373 742.5h0M373.3 741h0M374.2 740.3h0M374.5 740.8h0M375.4 739.3h0M375.5 738.7h0M376.1 739.3h0M377.5 738.7h0M377.9 737.6h0M378.5 737.6h0M379 736.7h0M379.2 736.9h0M380.3 735.4h0M380.7 735.8h0M381.6 734.2h0M381.5 734h0M382.2 733.8h0M383.5 733.4h0M384.6 734h0M384.7 733.4h0M385.3 733.3h0M385.9 733.1h0M386.4 732.5h0M387.2 731.9h0M387.2 732.6h0M387.8 731.3h0M389.4 730.1h0M389.1 729.6h0M389.5 730.1h0M390.3 729.3h0M390.4 729.1h0M391.3 726.9h0M391.9 726.6h0M393.4 726.1h0M393.5 726h0M393.7 725.4h0M395 725h0M395 725.5h0M395.7 725.3h0M396.1 723.2h0M397.2 724.7h0M397.8 722.8h0M398.6 723.5h0M398.7 722.7h0M399.4 722h0M400.2 722.1h0M400.6 721.1h0M400.3 720h0M402 719.5h0M402.5 719.5h0M403 719.3h0M404.1 719.2h0M404.2 717.5h0M404.9 717.2h0M405.8 717h0M405.8 717h0M406.2 717h0M407.3 715.8h0M407.6 717.1h0M408.8 715.8h0M409.1 716.1h0M409.5 714.4h0M410.2 713.4h0M410.5 715.1h0M411.5 712.7h0M411.9 712.6h0M412.4 712.5h0M412.7 710.8h0M413.7 711.5h0M414 711.2h0M414.8 711h0M415.5 711.2h0M416.7 710.4h0M416.8 710.1h0M417.7 709.4h0M418.3 708.4h0M418.9 708.6h0M419.4 707.6h0M419.7 707.7h0M420.2 706.1h0M421.6 707.2h0M421.3 706.9h0M421.5 705.9h0M423.1 705.1h0M423.3 705h0M424.2 703.1h0M424.3 704.2h0M425.5 702.1h0M425.3 702.7h0M426.1 701.3h0M426.8 701.5h0M426.9 701.3h0M428.1 700.9h0M428.4 699h0M429.6 699.8h0M430 698.3h0M431.1 698.7h0M431.3 697.2h0M432.3 697.2h0M432.3 697.2h0M433.4 695.7h0M433.8 695.5h0M434 693.5h0M435.2 692.7h0M434.9 692.2h0M436.2 693.4h0M436.4 693h0M437.8 692.5h0M437.3 691.9h0M439.2 689.7h0M438.4 690.8h0M439.8 689.3h0M440.2 687.5h0M440.5 688.3h0M441.6 688.3h0M442.3 686.8h0M442.6 687.7h0M442.7 686.5h0M443.5 685.8h0M445.1 685.4h0M444.8 684.2h0M445.1 684.2h0M445.4 683.6h0M446.9 682.6h0M447.1 683.6h0M448.5 683.7h0M449 682h0M449.1 682.2h0M450.1 681h0M451.1 680.3h0M451.1 680.8h0M451.8 679.6h0M452.6 681.1h0M452.7 679.1h0M453.6 678.3h0M454.6 677.7h0M455.2 676.6h0M455.3 676.3h0M455.9 676.9h0M456.6 676.1h0M456.9 674.6h0M457.9 675.1h0M458.6 673.4h0M458.7 673h0M459.8 673.3h0M459.6 674h0M460.6 673.1h0M461.2 673.3h0M461.9 672.3h0M462.4 672.4h0M463.4 671h0M463.9 669.8h0M463.9 670.1h0M464.5 670.5h0M464.9 668.5h0M466.1 668.6h0M466.6 668.9h0M467 668.2h0M468.1 668h0M468.4 668.1h0M468.7 666.4h0M469.5 668h0M470.4 668h0M471.2 666.6h0M471.2 664.4h0M471.2 665.2h0M472.2 663.8h0M473.4 664.4h0M473.3 664h0M474.9 664h0M474.8 663.5h0M474.9 662.2h0M476 662.8h0M476.4 660.7h0M477.3 661.5h0M477.5 660.6h0M478.5 659.6h0M478.7 659.7h0M479.9 659.2h0M480.5 658.3h0M480.7 657.9h0M481.9 657.5h0M482.4 657.5h0M482.9 656.2h0M483.1 656.7h0M483.9 655.2h0M484.6 655.3h0M485.5 653.7h0M485.8 654.6h0M486.2 653.2h0M486.7 651.6h0M487.1 652.3h0M488.3 649.8h0M488.7 651h0M488.8 650.6h0M489.7 651.1h0M490.2 650.4h0M490.8 648.4h0M492.3 648.1h0M492.3 647h0M493.1 648.7h0M493.5 647h0M494.2 646.2h0M494.3 646.3h0M495.3 644.5h0M495.1 645.7h0M496.1 645.2h0M497.5 644.4h0M497.6 642.1h0M499 644.2h0M498.7 642.3h0M499.8 641.2h0M500.5 642.9h0M500.4 640.9h0M502.1 640.9h0M502.1 640.6h0M501.9 641.1h0M503.8 639.5h0M503.5 640.6h0M503.9 638.8h0M504.5 637.5h0M505.4 636.2h0M505.8 637.8h0M506.5 636.5h0M508.3 637.4h0M507.8 637.2h0M508.8 636.1h0M509.5 635.2h0M509.6 636.4h0M510.4 635.7h0M510.3 633.5h0M511.3 633.8h0M512.2 634h0M513 632.8h0M513.6 632.9h0M514.1 630.1h0M514.4 631.9h0M515.1 632h0M515.6 630.6h0M516.1 630h0M517.4 630.7h0M517.9 629.7h0M518.2 627.8h0M519 627.9h0M519.5 627.8h0M520.3 627h0M520.9 627h0M521.8 626.5h0M521.7 624.7h0M522.7 625.7h0M522.2 625.5h0M523.8 624.5h0M524.7 624.2h0M524.7 624.1h0M525 623.8h0M525.7 623.1h0M527 622.2h0M527 623.3h0M527.8 622.4h0M528.6 621.5h0M529.5 620.7h0M529 620.1h0M530 619h0M530.7 619.7h0M531.6 619h0M532 618.5h0M532.4 617.4h0M533.2 618.2h0M533.5 617.1h0M534.7 615.9h0M535.1 616.3h0M536 615.1h0M536 616.4h0M537.6 615.3h0M537.9 613.9h0M538.4 614.1h0M538.9 612.6h0M539.3 613.5h0M540.2 612.9h0M540.6 612.8h0M541.6 610.6h0M540.9 611.2h0M542.8 612.1h0M543.1 609.6h0M543.6 609.4h0M544.3 609.2h0M545.2 608.2h0M545.8 607.9h0M546.1 608.2h0M545.9 606.1h0M547 606.8h0M547.4 607.1h0M548.3 606.6h0M548.4 605.6h0M549.4 606h0M550.5 604.4h0M550.6 602.6h0M552 604.1h0M552 603.7h0M552.4 601.7h0M552.7 601.9h0M553.5 601.2h0M554.3 602h0M554.9 601.2h0M556.3 600.1h0M555.8 600.8h0M556.5 601h0M557 599.2h0M558.4 597.6h0M558.8 598.5h0M559.1 598.8h0M559.4 597.8h0M560 597.8h0M560.4 596.3h0M561.2 595.1h0M562.4 595.1h0M562.8 593.2h0M562.8 593.7h0M563.9 592.8h0M564.5 594.2h0M565 593.1h0M565.5 591.9h0M566.2 592.2h0M567.4 591.7h0M567.1 591.6h0M567.6 589.1h0M568.5 589.5h0M569.4 589.5h0M569.3 588.5h0M570.2 590.1h0M570.5 587.3h0M572.1 588.6h0M572.1 588.1h0M572.8 585.9h0M573.4 586.7h0M574.5 585.4h0M574.1 585.3h0M575 584.1h0M576 584.3h0M576 583.1h0M577.5 583h0M578.3 580.9h0M577.8 582.2h0M578.4 581.8h0M579.4 580.2h0M580.7 582h0M580 580.1h0M580.7 579.5h0M581.6 579.1h0M582.8 579.7h0M582.9 578.7h0M583.8 576.8h0M584.2 576.7h0M585.2 577.9h0M585.5 577.6h0M585.9 575.5h0M587.1 575.6h0M587.3 574.2h0M588.1 574.7h0M588.4 573.5h0M588.7 573.5h0M589.7 574.3h0M589.6 571.9h0M590.4 571.9h0M591.1 571.1h0M591.8 571.9h0M592.4 570.4h0M593.4 570.8h0M593.4 571.1h0M594.2 569h0M595.1 568.7h0M595.2 569.9h0M596 567.7h0M596.9 567.9h0M596.7 567.2h0M598.2 566.8h0M598.8 565.8h0M599.5 565.9h0M599.5 564.8h0M600.7 565.3h0M600.9 565.1h0M601.5 564.2h0M602.3 563.7h0M603.1 565.3h0M602.8 563.1h0M603.8 563.1h0M603.9 563.8h0M605.5 563.3h0M606.2 560.6h0M606.3 562.1h0M607.4 559.9h0M607.7 561h0M608.7 559.3h0M608.9 559.5h0M609.3 558.5h0M610.4 558.3h0M610.6 558.7h0M611.6 557.8h0M611.7 556.3h0M612 556h0M613.1 555.1h0M613.3 554.8h0M614.3 554.8h0M615.4 555.7h0M615.4 554.2h0M616.4 553.2h0M617 552.4h0M617.1 553.1h0M617.9 551.3h0M618.1 552.1h0M618.4 552.9h0M619.3 551.2h0M621.2 550.4h0M620.9 550.6h0M621.4 549h0M621.4 549.4h0M622.5 549.8h0M623.3 548.8h0M623.4 547.7h0M624.6 547.2h0M625.3 546.7h0M625.5 546.8h0M625.8 548h0M626.3 546.6h0M628 544.9h0M628.2 545.3h0M628.7 544.6h0M629.1 544h0M629.6 542.3h0M630.3 543.2h0M631.1 542.5h0M631.5 541.8h0M631.9 541.1h0M632.8 540.1h0M634 538.8h0M634.2 539.4h0M635 538.8h0M635.5 538.1h0M635.5 538h0M636.4 536.9h0M637.4 536.3h0M637.5 536.7h0M638.2 536.8h0M638.5 536.3h0M639.8 535h0M640.7 533.3h0M640.4 532.9h0M640.1 531.7h0M641.9 532.1h0M641.5 532.5h0M642.5 531.6h0M643.4 532.4h0M643.3 531h0M646 530.3h0M645.5 529.8h0M646.3 529.6h0M646.8 528h0M647.2 528.7h0M647.8 528.2h0M648.8 528.3h0M649.1 527.3h0M649.5 526.1h0M650.5 524.9h0M651.2 524.5h0M651.4 524.3h0M651.7 524.8h0M652 525h0M652.6 524h0M653.7 522.8h0M654.5 523.5h0M655.1 521.6h0M655.6 522.4h0M655.8 521.4h0M657.3 520.4h0M657.3 521.1h0M657.8 520h0M658.5 520h0M658.8 518.4h0M660.2 518.9h0M660 520.2h0M660.8 519.4h0M661.2 519.4h0M662.3 520.4h0M663.1 518.7h0M663.3 520.1h0" fill="none" stroke="#5576f8" stroke-width="4.6" stroke-linecap="round"/>
<path d="M571.3 31.4h0M574 31.4h0M576.8 31.4h0M579.5 31.4h0M582.3 31.4h0M571.3 34.3h0M576.8 34.3h0M582.3 34.3h0M571.3 37.2h0M574 37.2h0M576.8 37.2h0M579.5 37.2h0M582.3 37.2h0M571.3 40.1h0M576.8 40.1h0M582.3 40.1h0M571.3 43h0M574 43h0M576.8 43h0M579.5 43h0M582.3 43h0M571.3 45.9h0M576.8 45.9h0M582.3 45.9h0M571.3 48.8h0M574 48.8h0M576.8 48.8h0M579.5 48.8h0M582.3 48.8h0M571.3 51.7h0M576.8 51.7h0M582.3 51.7h0M571.3 54.6h0M574 54.6h0M576.8 54.6h0M579.5 54.6h0M582.3 54.6h0M571.3 57.5h0M576.8 57.5h0M582.3 57.5h0M571.3 60.4h0M574 60.4h0M576.8 60.4h0M579.5 60.4h0M582.3 60.4h0M571.3 63.3h0M576.8 63.3h0M582.3 63.3h0M571.3 66.2h0M574 66.2h0M576.8 66.2h0M579.5 66.2h0M582.3 66.2h0M571.3 69.1h0M576.8 69.1h0M582.3 69.1h0M571.3 72h0M574 72h0M576.8 72h0M579.5 72h0M582.3 72h0M571.3 74.9h0M576.8 74.9h0M582.3 74.9h0M571.3 77.8h0M574 77.8h0M576.8 77.8h0M579.5 77.8h0M582.3 77.8h0M633.9 31.4h0M636.6 31.4h0M639.4 31.4h0M642.1 31.4h0M644.9 31.4h0M633.9 34.3h0M639.4 34.3h0M644.9 34.3h0M633.9 37.2h0M636.6 37.2h0M639.4 37.2h0M642.1 37.2h0M644.9 37.2h0M633.9 40.1h0M639.4 40.1h0M644.9 40.1h0M633.9 43h0M636.6 43h0M639.4 43h0M642.1 43h0M644.9 43h0M633.9 45.9h0M639.4 45.9h0M644.9 45.9h0M633.9 48.8h0M636.6 48.8h0M639.4 48.8h0M642.1 48.8h0M644.9 48.8h0M633.9 51.7h0M639.4 51.7h0M644.9 51.7h0M633.9 54.6h0M636.6 54.6h0M639.4 54.6h0M642.1 54.6h0M644.9 54.6h0M633.9 57.5h0M639.4 57.5h0M644.9 57.5h0M633.9 60.4h0M636.6 60.4h0M639.4 60.4h0M642.1 60.4h0M644.9 60.4h0M633.9 63.3h0M639.4 63.3h0M644.9 63.3h0M633.9 66.2h0M636.6 66.2h0M639.4 66.2h0M642.1 66.2h0M644.9 66.2h0M633.9 69.1h0M639.4 69.1h0M644.9 69.1h0M633.9 72h0M636.6 72h0M639.4 72h0M642.1 72h0M644.9 72h0M633.9 74.9h0M639.4 74.9h0M644.9 74.9h0M633.9 77.8h0M636.6 77.8h0M639.4 77.8h0M642.1 77.8h0M644.9 77.8h0" stroke="#e63232" stroke-width="1.9" stroke-linecap="round"/>
<line x1="576.7" y1="54.1" x2="639" y2="54.1" stroke="#8a8a80" stroke-width="1.3"/>
<line x1="596" y1="328.5" x2="621" y2="328.5" stroke="#a09a90" stroke-width="1.5"/>
<defs><filter id="rough" x="-0.3" y="-0.3" width="1.6" height="1.6"><feTurbulence type="fractalNoise" baseFrequency="0.35" numOctaves="2" seed="4" result="t"/><feDisplacementMap in="SourceGraphic" in2="t" scale="7" xChannelSelector="R" yChannelSelector="G"/></filter><filter id="speck" x="0" y="0" width="1" height="1" color-interpolation-filters="sRGB"><feTurbulence type="fractalNoise" baseFrequency="0.6" numOctaves="1" seed="9" result="t"/><feColorMatrix in="t" type="matrix" values="0 0 0 0 0.42  0 0 0 0 0.42  0 0 0 0 0.42  4 0 0 0 -1.9" result="gs"/><feComposite in="gs" in2="SourceGraphic" operator="in"/></filter></defs>
<g filter="url(#rough)">
<rect x="560.5" y="294.5" width="36.5" height="68" rx="9" ry="11" fill="#737373"/>
<rect x="620.5" y="293.5" width="37.5" height="70" rx="9" ry="11" fill="#737373"/>
</g>
<rect x="570.9" y="304" width="16.5" height="48.8" fill="#f4f0f0"/>
<rect x="570.9" y="304" width="16.5" height="48.8" fill="#000" filter="url(#speck)"/>
<rect x="631.7" y="304" width="15.7" height="48.8" fill="#f4f0f0"/>
<rect x="631.7" y="304" width="15.7" height="48.8" fill="#000" filter="url(#speck)"/>
<path d="M572.1 305.3h0M572.1 308.2h0M572.1 313.9h0M572.1 316.7h0M572.1 319.6h0M572.1 322.4h0M572.1 325.2h0M572.1 328.1h0M572.1 330.9h0M572.1 333.8h0M572.1 336.7h0M572.1 339.5h0M572.1 345.2h0M572.1 348.1h0M586.2 308.2h0M586.2 311h0M586.2 313.9h0M586.2 316.7h0M586.2 319.6h0M586.2 322.4h0M586.2 325.2h0M586.2 328.1h0M586.2 330.9h0M586.2 333.8h0M586.2 336.7h0M586.2 342.4h0M586.2 345.2h0M586.2 348.1h0M586.2 350.9h0M578.7 318.5h0M584.4 350.8h0M582.7 337.9h0M577.2 316.3h0M576.9 309.2h0M581.9 324h0M582.8 323.4h0M584 344.1h0M573.9 315.4h0M583.5 327.1h0M584.2 323.9h0M574.7 334.3h0M582.1 318.1h0M574.8 321h0M632.9 308.2h0M632.9 311h0M632.9 313.9h0M632.9 316.7h0M632.9 319.6h0M632.9 322.4h0M632.9 325.2h0M632.9 328.1h0M632.9 330.9h0M632.9 333.8h0M632.9 336.7h0M632.9 339.5h0M632.9 342.4h0M632.9 345.2h0M632.9 348.1h0M632.9 350.9h0M646.2 305.3h0M646.2 313.9h0M646.2 319.6h0M646.2 322.4h0M646.2 328.1h0M646.2 330.9h0M646.2 336.7h0M646.2 339.5h0M646.2 342.4h0M646.2 345.2h0M646.2 348.1h0M646.2 350.9h0M635.6 332.2h0M637.1 333.1h0M638.3 326.4h0M644 327.8h0M640.3 345h0M636.5 312.9h0M643.5 342.8h0M637.1 314.5h0M641.9 348.3h0M636.6 348.8h0M643.3 333.2h0M638.8 310.7h0M635.1 349.3h0M637 337.7h0" stroke="#e83030" stroke-width="1.8" stroke-linecap="round"/>
<g stroke="#1a1a1a" stroke-width="1.45" fill="none">
<rect x="154" y="0.8" width="533" height="778"/>
<line x1="154" y1="259.7" x2="687" y2="259.7"/>
<line x1="154" y1="519.4" x2="687" y2="519.4"/>
<path d="M154 244.6h3.5M687 244.6h-3.5M154 229.3h6M687 229.3h-6M154 214.1h3.5M687 214.1h-3.5M154 198.8h6M687 198.8h-6M154 183.5h3.5M687 183.5h-3.5M154 168.2h6M687 168.2h-6M154 153h3.5M687 153h-3.5M154 137.7h6M687 137.7h-6M154 122.4h3.5M687 122.4h-3.5M154 107.1h6M687 107.1h-6M154 91.9h3.5M687 91.9h-3.5M154 76.6h6M687 76.6h-6M154 61.3h3.5M687 61.3h-3.5M154 46h6M687 46h-6M154 30.8h3.5M687 30.8h-3.5M154 15.5h6M687 15.5h-6M154 497.8h3.5M687 497.8h-3.5M154 476.2h6M687 476.2h-6M154 454.6h3.5M687 454.6h-3.5M154 433h6M687 433h-6M154 411.4h3.5M687 411.4h-3.5M154 389.8h6M687 389.8h-6M154 368.2h3.5M687 368.2h-3.5M154 346.6h6M687 346.6h-6M154 325h3.5M687 325h-3.5M154 303.4h6M687 303.4h-6M154 281.8h3.5M687 281.8h-3.5M154 753h5M687 753h-5M154 727h5M687 727h-5M154 701h5M687 701h-5M154 675h5M687 675h-5M154 649h5M687 649h-5M154 623h5M687 623h-5M154 597h5M687 597h-5M154 571h5M687 571h-5M154 545h5M687 545h-5M187.3 0.8v3M187.3 259.7v-3M220.6 0.8v5.5M220.6 259.7v-5.5M253.9 0.8v3M253.9 259.7v-3M287.2 0.8v5.5M287.2 259.7v-5.5M320.6 0.8v3M320.6 259.7v-3M353.9 0.8v5.5M353.9 259.7v-5.5M387.2 0.8v3M387.2 259.7v-3M420.5 0.8v5.5M420.5 259.7v-5.5M453.8 0.8v3M453.8 259.7v-3M487.1 0.8v5.5M487.1 259.7v-5.5M520.4 0.8v3M520.4 259.7v-3M553.8 0.8v5.5M553.8 259.7v-5.5M587.1 0.8v3M587.1 259.7v-3M620.4 0.8v5.5M620.4 259.7v-5.5M653.7 0.8v3M653.7 259.7v-3M187.3 259.7v3M187.3 519.4v-3M220.6 259.7v5.5M220.6 519.4v-5.5M253.9 259.7v3M253.9 519.4v-3M287.2 259.7v5.5M287.2 519.4v-5.5M320.6 259.7v3M320.6 519.4v-3M353.9 259.7v5.5M353.9 519.4v-5.5M387.2 259.7v3M387.2 519.4v-3M420.5 259.7v5.5M420.5 519.4v-5.5M453.8 259.7v3M453.8 519.4v-3M487.1 259.7v5.5M487.1 519.4v-5.5M520.4 259.7v3M520.4 519.4v-3M553.8 259.7v5.5M553.8 519.4v-5.5M587.1 259.7v3M587.1 519.4v-3M620.4 259.7v5.5M620.4 519.4v-5.5M653.7 259.7v3M653.7 519.4v-3M187.3 519.4v3M187.3 778.8v-3M220.6 519.4v5.5M220.6 778.8v-5.5M253.9 519.4v3M253.9 778.8v-3M287.2 519.4v5.5M287.2 778.8v-5.5M320.6 519.4v3M320.6 778.8v-3M353.9 519.4v5.5M353.9 778.8v-5.5M387.2 519.4v3M387.2 778.8v-3M420.5 519.4v5.5M420.5 778.8v-5.5M453.8 519.4v3M453.8 778.8v-3M487.1 519.4v5.5M487.1 778.8v-5.5M520.4 519.4v3M520.4 778.8v-3M553.8 519.4v5.5M553.8 778.8v-5.5M587.1 519.4v3M587.1 778.8v-3M620.4 519.4v5.5M620.4 778.8v-5.5M653.7 519.4v3M653.7 778.8v-3"/>
</g>
<text x="138.2" y="55.1" font-size="29.5" text-anchor="end">60</text>
<text x="138.2" y="85.7" font-size="29.5" text-anchor="end">40</text>
<text x="138.2" y="116.2" font-size="29.5" text-anchor="end">20</text>
<text x="138.2" y="146.8" font-size="29.5" text-anchor="end">0</text>
<text x="138.2" y="177.3" font-size="29.5" text-anchor="end">-20</text>
<text x="138.2" y="207.9" font-size="29.5" text-anchor="end">-40</text>
<text x="138.2" y="238.4" font-size="29.5" text-anchor="end">-60</text>
<text x="138.2" y="312.5" font-size="29.5" text-anchor="end">10</text>
<text x="138.2" y="355.7" font-size="29.5" text-anchor="end">5</text>
<text x="138.2" y="398.9" font-size="29.5" text-anchor="end">0</text>
<text x="138.2" y="442.1" font-size="29.5" text-anchor="end">-5</text>
<text x="138.2" y="485.3" font-size="29.5" text-anchor="end">-10</text>
<text x="138.2" y="593.1" font-size="29.5" text-anchor="end">300</text>
<text x="138.2" y="658.1" font-size="29.5" text-anchor="end">200</text>
<text x="138.2" y="723.1" font-size="29.5" text-anchor="end">100</text>
<text x="220.6" y="815.6" font-size="28.5" text-anchor="middle">3</text>
<text x="287.2" y="815.6" font-size="28.5" text-anchor="middle">4</text>
<text x="353.9" y="815.6" font-size="28.5" text-anchor="middle">5</text>
<text x="420.5" y="815.6" font-size="28.5" text-anchor="middle">6</text>
<text x="487.1" y="815.6" font-size="28.5" text-anchor="middle">7</text>
<text x="553.8" y="815.6" font-size="28.5" text-anchor="middle">8</text>
<text x="620.4" y="815.6" font-size="28.5" text-anchor="middle">9</text>
<text x="168.5" y="44.5" font-size="27.5">a)</text>
<text x="168" y="302.9" font-size="27.5">b)</text>
<text x="168.5" y="565.2" font-size="27.5">c)</text>
<text x="282.8" y="229.6" font-size="28" fill="#404040">2nd minimum</text>
<text x="191.5" y="366.9" font-size="27.5" fill="#404040">repulsion</text>
<text x="417" y="471.8" font-size="27.5" fill="#404040">attraction</text>
<line x1="273.2" y1="223.7" x2="226" y2="236.9" stroke="#383838" stroke-width="2"/>
<path d="M218.7 238.8 L226.2 231.2 L229.3 241.7 Z" fill="#383838"/>
<text transform="translate(291.5,672.3) rotate(-35)" font-size="27.5" fill="#ff0000">w/o ligands</text>
<text transform="translate(441,670) rotate(-35)" font-size="27.5" fill="#5576f8">w/ ligands</text>
<text transform="translate(36.7,258.7) rotate(-90)" font-size="27.5" text-anchor="middle">Free energy (k<tspan dy="6">B</tspan><tspan dy="-6">T)</tspan></text>
<text transform="translate(20.4,651) rotate(-90)" font-size="27.5" text-anchor="middle"># solv. molecules</text>
<text transform="translate(54.8,651) rotate(-90)" font-size="27.5" text-anchor="middle">between facets</text>
<text x="420.4" y="869.7" font-size="27.5" text-anchor="middle">Center-center distance (nm)</text>
<text x="420.6" y="939.2" font-size="27.5" text-anchor="middle">Solvent bead density (a.u.)</text>
<defs>
<linearGradient id="cb0"><stop offset="0" stop-color="rgb(255,248,0)"/><stop offset="1" stop-color="rgb(255,200,0)"/></linearGradient>
<linearGradient id="cb1"><stop offset="0" stop-color="rgb(255,168,0)"/><stop offset="1" stop-color="rgb(255,85,0)"/></linearGradient>
<linearGradient id="cb2"><stop offset="0" stop-color="rgb(255,25,0)"/><stop offset="1" stop-color="rgb(205,0,0)"/></linearGradient>
<linearGradient id="cb3"><stop offset="0" stop-color="rgb(190,0,0)"/><stop offset="1" stop-color="rgb(140,0,0)"/></linearGradient>
<linearGradient id="cb4"><stop offset="0" stop-color="rgb(128,0,0)"/><stop offset="1" stop-color="rgb(80,0,0)"/></linearGradient>
<linearGradient id="cb5"><stop offset="0" stop-color="rgb(68,0,0)"/><stop offset="1" stop-color="rgb(0,0,0)"/></linearGradient>
</defs>
<rect x="278.6" y="956.7" width="46.2" height="12.7" fill="url(#cb0)"/>
<rect x="324.5" y="956.7" width="46.2" height="12.7" fill="url(#cb1)"/>
<rect x="370.4" y="956.7" width="46.2" height="12.7" fill="url(#cb2)"/>
<rect x="416.2" y="956.7" width="46.2" height="12.7" fill="url(#cb3)"/>
<rect x="462.1" y="956.7" width="46.2" height="12.7" fill="url(#cb4)"/>
<rect x="508" y="956.7" width="46.2" height="12.7" fill="url(#cb5)"/>
<line x1="324.5" y1="956.7" x2="324.5" y2="969.4" stroke="#222" stroke-width="1" stroke-dasharray="3 2"/>
<line x1="370.4" y1="956.7" x2="370.4" y2="969.4" stroke="#222" stroke-width="1" stroke-dasharray="3 2"/>
<line x1="416.2" y1="956.7" x2="416.2" y2="969.4" stroke="#222" stroke-width="1" stroke-dasharray="3 2"/>
<line x1="462.1" y1="956.7" x2="462.1" y2="969.4" stroke="#222" stroke-width="1" stroke-dasharray="3 2"/>
<line x1="508" y1="956.7" x2="508" y2="969.4" stroke="#222" stroke-width="1" stroke-dasharray="3 2"/>
<rect x="278.6" y="956.7" width="275.3" height="12.7" fill="none" stroke="#222" stroke-width="1.3"/>
<text x="277.7" y="1001.3" font-size="27.5" text-anchor="middle">0</text>
<text x="323" y="1001.3" font-size="27.5" text-anchor="middle">1</text>
<text x="369.6" y="1001.3" font-size="27.5" text-anchor="middle">2</text>
<text x="415.7" y="1001.3" font-size="27.5" text-anchor="middle">3</text>
<text x="461.3" y="1001.3" font-size="27.5" text-anchor="middle">4</text>
<text x="507" y="1001.3" font-size="27.5" text-anchor="middle">5</text>
<text x="552.7" y="1001.3" font-size="27.5" text-anchor="middle">&#8805;6</text>
<defs>
<filter id="hmd" filterUnits="userSpaceOnUse" x="152" y="1051.5" width="243" height="289.3" color-interpolation-filters="sRGB">
<feTurbulence type="fractalNoise" baseFrequency="0.19" numOctaves="2" seed="7" result="n"/>
<feColorMatrix in="n" type="matrix" values="1 0 0 0 0 1 0 0 0 0 1 0 0 0 0 0 0 0 0 1" result="ng0"/>
<feComponentTransfer in="ng0" result="ng"><feFuncR type="table" tableValues="0.15 0.22 0.29 0.36 0.43 0.5 0.58 0.82 1 1 1"/><feFuncG type="table" tableValues="0.15 0.22 0.29 0.36 0.43 0.5 0.58 0.82 1 1 1"/><feFuncB type="table" tableValues="0.15 0.22 0.29 0.36 0.43 0.5 0.58 0.82 1 1 1"/></feComponentTransfer>
<feGaussianBlur in="SourceGraphic" stdDeviation="0.8" result="src"/>
<feComposite in="src" in2="ng" operator="arithmetic" k1="2.0" k2="0.3999999999999999" k3="0.2" k4="-0.4" result="s"/>
<feComponentTransfer in="s"><feFuncR type="table" tableValues="1 1 1 1 1 1 0.84 0.71 0.59 0.44 0.29 0.15 0"/><feFuncG type="table" tableValues="1 0.9 0.78 0.55 0.31 0.04 0 0 0 0 0 0 0"/><feFuncB type="linear" slope="0" intercept="0"/><feFuncA type="linear" slope="0" intercept="1"/></feComponentTransfer>
</filter>
<filter id="hme" filterUnits="userSpaceOnUse" x="449.8" y="1052" width="242.5" height="289" color-interpolation-filters="sRGB">
<feTurbulence type="fractalNoise" baseFrequency="0.19" numOctaves="2" seed="11" result="n"/>
<feColorMatrix in="n" type="matrix" values="1 0 0 0 0 1 0 0 0 0 1 0 0 0 0 0 0 0 0 1" result="ng0"/>
<feComponentTransfer in="ng0" result="ng"><feFuncR type="table" tableValues="0.15 0.22 0.29 0.36 0.43 0.5 0.58 0.82 1 1 1"/><feFuncG type="table" tableValues="0.15 0.22 0.29 0.36 0.43 0.5 0.58 0.82 1 1 1"/><feFuncB type="table" tableValues="0.15 0.22 0.29 0.36 0.43 0.5 0.58 0.82 1 1 1"/></feComponentTransfer>
<feGaussianBlur in="SourceGraphic" stdDeviation="0.8" result="src"/>
<feComposite in="src" in2="ng" operator="arithmetic" k1="2.0" k2="0.3999999999999999" k3="0.2" k4="-0.4" result="s"/>
<feComponentTransfer in="s"><feFuncR type="table" tableValues="1 1 1 1 1 1 0.84 0.71 0.59 0.44 0.29 0.15 0"/><feFuncG type="table" tableValues="1 0.9 0.78 0.55 0.31 0.04 0 0 0 0 0 0 0"/><feFuncB type="linear" slope="0" intercept="0"/><feFuncA type="linear" slope="0" intercept="1"/></feComponentTransfer>
</filter>
</defs>
<clipPath id="clipD"><rect x="156" y="1055.5" width="235" height="281.3"/></clipPath><clipPath id="clipE"><rect x="453.8" y="1056" width="234.5" height="281"/></clipPath>
<g clip-path="url(#clipD)"><g filter="url(#hmd)">
<rect x="152" y="1051.5" width="243" height="289.3" fill="rgb(126,126,126)"/>
<rect x="167" y="1105.8" width="212" height="104.3" rx="35" fill="none" stroke="rgb(155,155,155)" stroke-width="3"/>
<rect x="167" y="1181.8" width="212" height="103.2" rx="35" fill="none" stroke="rgb(155,155,155)" stroke-width="3"/>
<rect x="172" y="1110.8" width="202" height="94.3" rx="30" fill="none" stroke="rgb(109,109,109)" stroke-width="3"/>
<rect x="172" y="1186.8" width="202" height="93.2" rx="30" fill="none" stroke="rgb(109,109,109)" stroke-width="3"/>
<rect x="177" y="1115.8" width="192" height="84.3" rx="25" fill="none" stroke="rgb(173,173,173)" stroke-width="3"/>
<rect x="177" y="1191.8" width="192" height="83.2" rx="25" fill="none" stroke="rgb(173,173,173)" stroke-width="3"/>
<rect x="182" y="1120.8" width="182" height="74.3" rx="20" fill="none" stroke="rgb(87,87,87)" stroke-width="3.2"/>
<rect x="182" y="1196.8" width="182" height="73.2" rx="20" fill="none" stroke="rgb(87,87,87)" stroke-width="3.2"/>
<rect x="186.9" y="1125.7" width="172.2" height="64.5" rx="15.1" fill="none" stroke="rgb(215,215,215)" stroke-width="3.3"/>
<rect x="186.9" y="1201.7" width="172.2" height="63.4" rx="15.1" fill="none" stroke="rgb(215,215,215)" stroke-width="3.3"/>
<rect x="189" y="1127.8" width="168" height="60.3" rx="13" fill="rgb(0,0,0)"/>
<rect x="189" y="1203.8" width="168" height="59.2" rx="13" fill="rgb(0,0,0)"/>
</g></g>
<rect x="202.3" y="1141.4" width="141.5" height="36.2" fill="#4b4b4b" stroke="#44445a" stroke-width="0.8"/>
<rect x="202.3" y="1215.2" width="141.5" height="36.7" fill="#4b4b4b" stroke="#44445a" stroke-width="0.8"/>
<rect x="155.7" y="1055.2" width="235.6" height="281.9" fill="none" stroke="#1a1a1a" stroke-width="1.3"/>
<defs><filter id="blurE" x="-0.2" y="-0.2" width="1.4" height="1.4"><feGaussianBlur stdDeviation="6"/></filter><filter id="blurE3" x="-0.2" y="-0.2" width="1.4" height="1.4"><feGaussianBlur stdDeviation="3"/></filter><filter id="blurE2" x="-0.2" y="-2" width="1.4" height="5"><feGaussianBlur stdDeviation="2"/></filter></defs>
<g clip-path="url(#clipE)"><g filter="url(#hme)">
<rect x="449.8" y="1052" width="242.5" height="289" fill="rgb(124,124,124)"/>
<g filter="url(#blurE)">
<rect x="461" y="1053" width="214" height="138" rx="70" ry="56" fill="rgb(104,104,104)"/>
<rect x="461" y="1202" width="214" height="140" rx="70" ry="56" fill="rgb(104,104,104)"/>
</g>
<g filter="url(#blurE3)">
<rect x="470" y="1060" width="198" height="122" rx="62" ry="50" fill="rgb(73,73,73)"/>
<rect x="470" y="1209" width="198" height="121" rx="62" ry="50" fill="rgb(73,73,73)"/>
<rect x="481" y="1079" width="177" height="84" rx="48" ry="40" fill="rgb(0,0,0)"/>
<rect x="484" y="1232" width="174" height="77" rx="48" ry="38" fill="rgb(0,0,0)"/>
</g>
<g filter="url(#blurE2)">
<rect x="446" y="1192.5" width="250" height="6.5" fill="rgb(146,146,146)"/>
</g></g>
</g>
<rect x="500.4" y="1108.1" width="140.9" height="36.5" fill="#4b4b4b" stroke="#44445a" stroke-width="0.8"/>
<rect x="500.4" y="1250.6" width="140.9" height="35.5" fill="#4b4b4b" stroke="#44445a" stroke-width="0.8"/>
<rect x="453.5" y="1055.7" width="235.1" height="281.6" fill="none" stroke="#1a1a1a" stroke-width="1.3"/>
<path d="M155.7 1336.4h-3.8M155.7 1313h-3.8M155.7 1289.6h-3.8M155.7 1266.2h-3.8M155.7 1242.8h-3.8M155.7 1219.4h-3.8M155.7 1196h-3.8M155.7 1172.6h-3.8M155.7 1149.2h-3.8M155.7 1125.8h-3.8M155.7 1102.4h-3.8M155.7 1079h-3.8M155.7 1055.6h-3.8M156 1337.1v4.2M453.8 1337.3v4.2M179.5 1337.1v4.2M477.1 1337.3v4.2M203 1337.1v4.2M500.5 1337.3v4.2M226.5 1337.1v4.2M523.9 1337.3v4.2M250 1337.1v4.2M547.2 1337.3v4.2M273.5 1337.1v4.2M570.6 1337.3v4.2M297 1337.1v4.2M594 1337.3v4.2M320.5 1337.1v4.2M617.3 1337.3v4.2M344 1337.1v4.2M640.7 1337.3v4.2M367.5 1337.1v4.2M664.1 1337.3v4.2M391 1337.1v4.2M687.5 1337.3v4.2" stroke="#1a1a1a" stroke-width="1.2" fill="none"/>
<text x="136.5" y="1112.3" font-size="27.5" text-anchor="end">4</text>
<text x="136.5" y="1159.1" font-size="27.5" text-anchor="end">2</text>
<text x="136.5" y="1205.9" font-size="27.5" text-anchor="end">0</text>
<text x="136.5" y="1252.7" font-size="27.5" text-anchor="end">-2</text>
<text x="136.5" y="1299.5" font-size="27.5" text-anchor="end">-4</text>
<text x="176.5" y="1368.4" font-size="27.5" text-anchor="middle">-4</text>
<text x="474.1" y="1368.4" font-size="27.5" text-anchor="middle">-4</text>
<text x="223.5" y="1368.4" font-size="27.5" text-anchor="middle">-2</text>
<text x="520.9" y="1368.4" font-size="27.5" text-anchor="middle">-2</text>
<text x="273.5" y="1368.4" font-size="27.5" text-anchor="middle">0</text>
<text x="570.6" y="1368.4" font-size="27.5" text-anchor="middle">0</text>
<text x="320.5" y="1368.4" font-size="27.5" text-anchor="middle">2</text>
<text x="617.3" y="1368.4" font-size="27.5" text-anchor="middle">2</text>
<text x="367.5" y="1368.4" font-size="27.5" text-anchor="middle">4</text>
<text x="664.1" y="1368.4" font-size="27.5" text-anchor="middle">4</text>
<text x="159.5" y="1043.1" font-size="27.5">d) w/o ligands</text>
<text x="454.5" y="1044.1" font-size="27.5">e) w/ ligands</text>
<text x="268.7" y="1418.7" font-size="27.5" text-anchor="middle">x (nm)</text>
<text x="566" y="1419.7" font-size="27.5" text-anchor="middle">x (nm)</text>
<text transform="translate(40.4,1203) rotate(-90)" font-size="27.5" text-anchor="middle">z (nm)</text>
</svg></body></html>
